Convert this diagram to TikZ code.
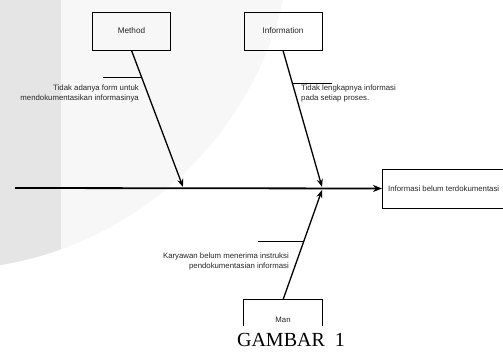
\documentclass[tikz,border=0pt]{standalone}
\usepackage{fontspec}
\setmainfont{Liberation Sans}
\newfontfamily\captionfont{Liberation Serif}
\usetikzlibrary{arrows.meta}
\usetikzlibrary{calc}

\begin{document}
\begin{tikzpicture}[x=1pt,y=-1pt,
  causebox/.style={draw, line width=0.8pt, minimum width=78pt, minimum height=38pt, font=\fontsize{8.2}{9}\selectfont, text=black!85},
  bone/.style={line width=1.3pt, -{Stealth[length=8pt,width=6pt]}},
  note/.style={font=\fontsize{7.8}{10}\selectfont, inner sep=0pt, text=black!85}]
\useasboundingbox (0,0) rectangle (503,351);
% watermark
\begin{scope}
\clip (0,0) rectangle (503,351);
\fill[black!3] (-56.7,-79.1) circle (348.8);
\clip (-56.7,-79.1) circle (348.8);
\fill[black!10] (-5,-5) rectangle (61,356);
\end{scope}
\node[causebox] (method) at (131.5,31) {Method};
\node[causebox] (info) at (283,31) {Information};
\node[draw, line width=0.8pt, minimum width=125pt, minimum height=39pt, anchor=west] (effect) at (382,188.5) {};
\node[note, anchor=west] (effecttext) at ([xshift=6pt]effect.west) {Informasi belum terdokumentasi};
\node[minimum width=78pt, minimum height=26pt, inner sep=0pt] (man) at (283,313) {};
\draw[line width=0.8pt] (man.south west) -- (man.north west) -- (man.north east) -- (man.south east);
\node[note] (manlabel) at (283,320) {Man};
\coordinate (tail) at (15,188);
\coordinate (mjoint) at (183,187);
\coordinate (ijoint) at (322,187);
\coordinate (manjoint) at (322,190);
\draw[line width=1.8pt, -{Stealth[length=9pt,width=7pt]}] (tail) -- (effect.west);
\draw[bone] (method.south) -- (mjoint);
\draw[bone] (info.south) -- (ijoint);
\draw[bone] (man.north) -- (manjoint);
% sub causes
\coordinate (msub) at ($(method.south)!0.196!(mjoint)$);
\coordinate (isub) at ($(info.south)!0.24!(ijoint)$);
\coordinate (mansub) at ($(man.north)!0.536!(manjoint)$);
\draw[line width=0.8pt] (msub) -- ++(-39,0);
\draw[line width=0.8pt] (isub) -- ++(40,0);
\draw[line width=0.8pt] (mansub) -- ++(-46,0);
\node[note, anchor=north east, align=right] (mcause) at (139,85) {Tidak adanya form untuk\\mendokumentasikan informasinya};
\node[note, anchor=north west, align=left] (icause) at (301,85) {Tidak lengkapnya informasi\\pada setiap proses.};
\node[note, anchor=north east, align=right] (mancause) at (289,253) {Karyawan belum menerima instruksi\\pendokumentasian informasi};
\node[font=\captionfont\fontsize{20}{21}\selectfont, inner sep=0pt] (caption) at (291,340) {GAMBAR\ \ 1};
\end{tikzpicture}
\end{document}
